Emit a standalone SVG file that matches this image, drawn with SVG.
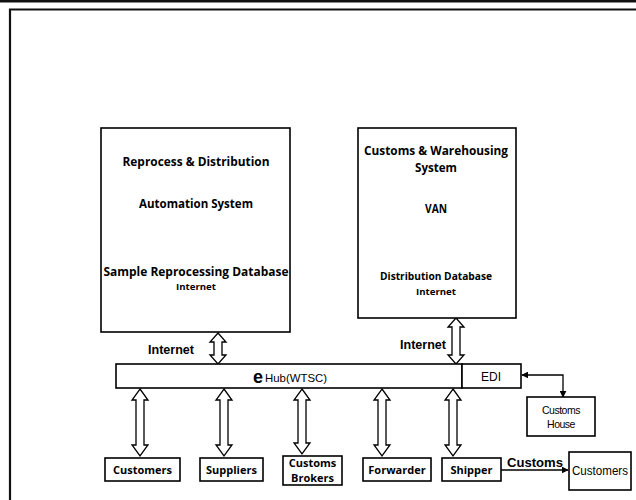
<svg xmlns="http://www.w3.org/2000/svg" width="636" height="500" viewBox="0 0 636 500">
  <style>
    .box { fill: #fff; stroke: #000; stroke-width: 1.6; }
    .frame { fill: none; stroke: #111; stroke-width: 2.2; }
    .harrow { fill: #fff; stroke: #000; stroke-width: 1.3; stroke-linejoin: miter; }
    .line { fill: none; stroke: #000; stroke-width: 1.3; }
    .hum { font-family: "Open Sans", "Noto Sans", sans-serif; font-weight: 700; fill: #000; text-anchor: middle; }
    .ar { font-family: "Liberation Sans", Arial, sans-serif; fill: #000; text-anchor: middle; }
    .arb { font-family: "Liberation Sans", Arial, sans-serif; font-weight: bold; fill: #000; text-anchor: middle; }
  </style>
  <defs>
    <marker id="head" viewBox="0 0 10 10" refX="9" refY="5" markerWidth="7" markerHeight="7" orient="auto-start-reverse" markerUnits="userSpaceOnUse">
      <path d="M0,0 L10,5 L0,10 Z" fill="#000"/>
    </marker>
  </defs>

  <rect width="636" height="500" fill="#fff"/>
  <!-- page rule and frame -->
  <rect x="0" y="0" width="636" height="2.5" fill="#111"/>
  <path class="frame" d="M10,500 V9.5 H636"/>

  <!-- connectors -->
  <g id="connectors">
    <!-- hollow double-headed block arrows -->
    <path class="harrow" d="M218,333 L226,342 L222,342 L222,355 L226,355 L218,364 L210,355 L214,355 L214,342 L210,342 Z"/>
    <path class="harrow" d="M456,318 L464,327 L460,327 L460,355 L464,355 L456,364 L448,355 L452,355 L452,327 L448,327 Z"/>
    <path class="harrow" d="M140,389 L148,400 L144,400 L144,445 L148,445 L140,456 L132,445 L136,445 L136,400 L132,400 Z"/>
    <path class="harrow" d="M224,389 L232,400 L228,400 L228,445 L232,445 L224,456 L216,445 L220,445 L220,400 L216,400 Z"/>
    <path class="harrow" d="M302,389 L310,400 L306,400 L306,443 L310,443 L302,454 L294,443 L298,443 L298,400 L294,400 Z"/>
    <path class="harrow" d="M382,389 L390,400 L386,400 L386,445 L390,445 L382,456 L374,445 L378,445 L378,400 L374,400 Z"/>
    <path class="harrow" d="M453,389 L461,400 L457,400 L457,445 L461,445 L453,456 L445,445 L449,445 L449,400 L445,400 Z"/>
    <!-- EDI to Customs House -->
    <path class="line" d="M522,375 H563 V397" marker-start="url(#head)" marker-end="url(#head)"/>
    <!-- Shipper to Customers -->
    <path class="line" d="M501,470 H568" marker-end="url(#head)"/>
    <text class="arb" x="535" y="467" font-size="13" textLength="56" lengthAdjust="spacingAndGlyphs">Customs</text>
    <text class="arb" x="171" y="354" font-size="13" textLength="46" lengthAdjust="spacingAndGlyphs">Internet</text>
    <text class="arb" x="423" y="349" font-size="13" textLength="46" lengthAdjust="spacingAndGlyphs">Internet</text>
  </g>

  <g id="reprocess-system">
    <rect class="box" x="101" y="128" width="189" height="204"/>
    <text class="hum" x="196" y="166" font-size="12" textLength="147" lengthAdjust="spacingAndGlyphs">Reprocess &amp; Distribution</text>
    <text class="hum" x="196" y="208" font-size="12" textLength="114" lengthAdjust="spacingAndGlyphs">Automation System</text>
    <text class="hum" x="196" y="276" font-size="12" textLength="185" lengthAdjust="spacingAndGlyphs">Sample Reprocessing Database</text>
    <text class="hum" x="196" y="290" font-size="9" textLength="40" lengthAdjust="spacingAndGlyphs">Internet</text>
  </g>

  <g id="customs-system">
    <rect class="box" x="358" y="128" width="158" height="190"/>
    <text class="hum" x="436" y="155" font-size="12" textLength="144" lengthAdjust="spacingAndGlyphs">Customs &amp; Warehousing</text>
    <text class="hum" x="436" y="172" font-size="12" textLength="42" lengthAdjust="spacingAndGlyphs">System</text>
    <text class="hum" x="436" y="213" font-size="12" textLength="22" lengthAdjust="spacingAndGlyphs">VAN</text>
    <text class="hum" x="436" y="280" font-size="10" textLength="112" lengthAdjust="spacingAndGlyphs">Distribution Database</text>
    <text class="hum" x="436" y="295" font-size="9.5" textLength="40" lengthAdjust="spacingAndGlyphs">Internet</text>
  </g>

  <g id="hub">
    <rect class="box" x="116" y="364" width="346" height="24"/>
    <text x="258" y="383" font-family="Liberation Sans, Arial, sans-serif" font-weight="bold" font-size="18" text-anchor="middle">e</text>
    <text class="ar" x="296" y="382" font-size="11.5" textLength="62" lengthAdjust="spacingAndGlyphs">Hub(WTSC)</text>
  </g>

  <g id="edi">
    <rect class="box" x="462" y="364" width="59" height="24"/>
    <text class="ar" x="491" y="381" font-size="12.5" textLength="20" lengthAdjust="spacingAndGlyphs">EDI</text>
  </g>

  <g id="customs-house">
    <rect class="box" x="527" y="397" width="68" height="39"/>
    <text class="ar" x="561" y="414" font-size="10.5" letter-spacing="-0.5">Customs</text>
    <text class="ar" x="561" y="428" font-size="10.5" letter-spacing="-0.5">House</text>
  </g>

  <g id="customers">
    <rect class="box" x="105" y="458" width="75" height="23"/>
    <text class="hum" x="142.5" y="474" font-size="11">Customers</text>
  </g>

  <g id="suppliers">
    <rect class="box" x="200" y="458" width="63" height="23"/>
    <text class="hum" x="231.5" y="474" font-size="11">Suppliers</text>
  </g>

  <g id="customs-brokers">
    <rect class="box" x="283" y="456" width="59" height="29"/>
    <text class="hum" x="312.5" y="467" font-size="11">Customs</text>
    <text class="hum" x="312.5" y="482" font-size="11">Brokers</text>
  </g>

  <g id="forwarder">
    <rect class="box" x="363" y="458" width="68" height="23"/>
    <text class="hum" x="397" y="474" font-size="11">Forwarder</text>
  </g>

  <g id="shipper">
    <rect class="box" x="442" y="458" width="59" height="23"/>
    <text class="hum" x="471.5" y="474" font-size="11">Shipper</text>
  </g>

  <g id="end-customers">
    <rect class="box" x="569" y="452" width="62" height="38"/>
    <text class="ar" x="600" y="475" font-size="12" textLength="56" lengthAdjust="spacingAndGlyphs">Customers</text>
  </g>
</svg>
